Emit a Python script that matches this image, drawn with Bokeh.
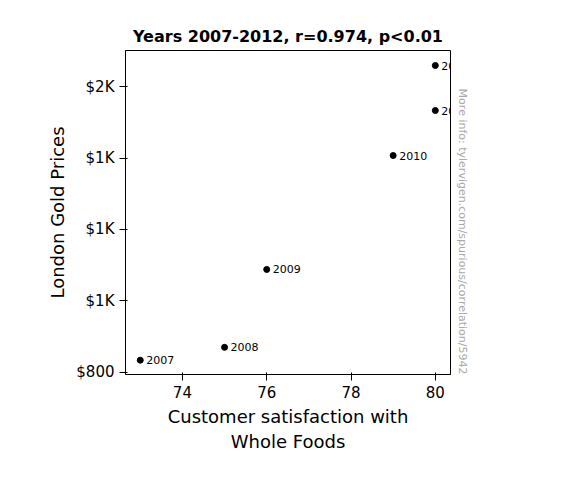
from bokeh.plotting import figure
from bokeh.models import ColumnDataSource, CustomJSTickFormatter, Label, Range1d, FixedTicker, Title
from bokeh.embed import file_html
from bokeh.resources import INLINE

years = ["2007", "2008", "2009", "2010", "2011", "2012"]
satisfaction = [73, 75, 76, 79, 80, 80]
gold = [834, 870, 1088, 1407, 1533, 1659]
y_ticks = [800, 1000, 1200, 1400, 1600]
x_ticks = [74, 76, 78, 80]

F = "DejaVu Sans"
src = ColumnDataSource(dict(x=satisfaction, y=gold, t=years))
p = figure(width=560, height=480, output_backend="svg", toolbar_location=None,
           x_range=Range1d(72.65, 80.36), y_range=Range1d(794, 1701),
           min_border_left=125, min_border_right=110, min_border_top=50, min_border_bottom=106)
p.title.text = "Years 2007-2012, r=0.974, p<0.01"
p.title.align = "center"
p.title.text_font_size = "16px"
p.title.text_font = F
p.title.text_color = "black"
side = Title(text="More info: tylervigen.com/spurious/correlation/5942", align="right",
             text_font_size="11px", text_color="#aaaaaa", text_font=F, text_font_style="normal")
p.add_layout(side, "right")
p.grid.visible = False
p.outline_line_color = "black"
p.scatter("x", "y", source=src, size=6, color="black")
for xv, yv, t in zip(satisfaction, gold, years):
    p.add_layout(Label(x=xv, y=yv, text=t, x_offset=6, text_baseline="middle",
                       text_font_size="11px", text_font=F, text_color="black"))
p.xaxis.ticker = FixedTicker(ticks=x_ticks)
p.yaxis.ticker = FixedTicker(ticks=y_ticks)
p.yaxis.formatter = CustomJSTickFormatter(code="return tick>=1000 ? '$'+Math.round(tick/1000)+'K' : '$'+tick;")
p.xaxis.axis_label = "Customer satisfaction with\nWhole Foods"
p.yaxis.axis_label = "London Gold Prices"
for ax in (p.xaxis[0], p.yaxis[0]):
    ax.axis_label_text_font_style = "normal"
    ax.axis_label_text_font_size = "18px"
    ax.axis_label_text_font = F
    ax.axis_label_text_color = "black"
    ax.major_label_text_font_size = "15px"
    ax.major_label_text_font = F
    ax.major_label_text_color = "black"
    ax.minor_tick_line_color = None
    ax.axis_line_color = "black"
    ax.major_tick_line_color = "black"
open("out.html", "w").write(file_html(p, INLINE))
